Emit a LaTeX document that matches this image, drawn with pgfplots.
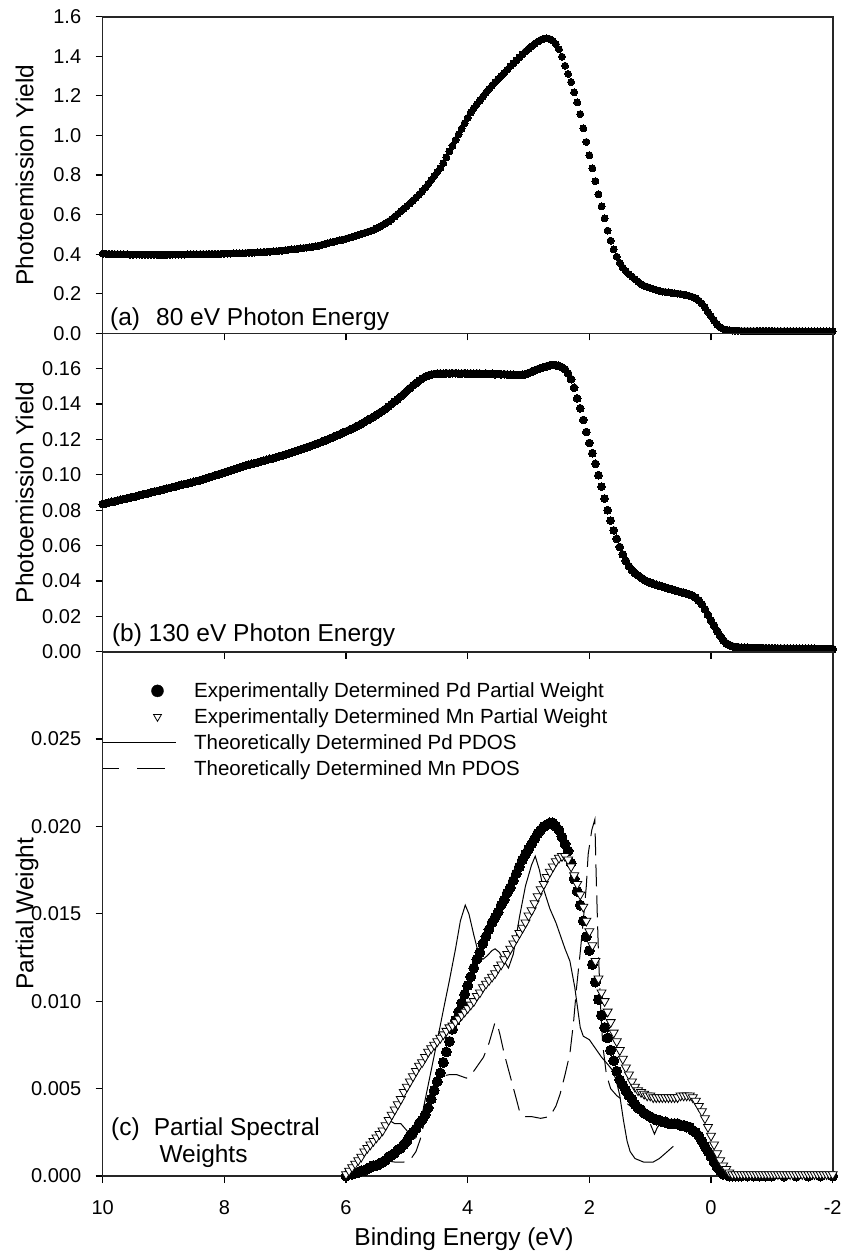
\documentclass[border=0pt]{standalone}
\usepackage{fontspec}
\setmainfont{Liberation Sans}
\usepackage{pgfplots}
\pgfplotsset{compat=1.18}
\pgfplotsset{
  myax/.style={
    scale only axis, anchor=south west, width=730pt,
    xmin=-2, xmax=10, x dir=reverse,
    xtick={10,8,6,4,2,0,-2},
    tick align=outside, major tick length=7pt,
    xtick pos=left, ytick pos=left,
    tick style={line width=1.2pt, black},
    axis line style={line width=1.6pt, black!85},
    clip=false, scaled y ticks=false, scaled x ticks=false,
    /pgf/number format/assume math mode=true,
    tick label style={font=\fontsize{20}{24}\selectfont},
    yticklabel style={xshift=-11pt},
    xticklabel style={yshift=-14pt},
    every axis y label/.style={at={(axis description cs:-0.0951,0.5)}, rotate=90, anchor=base, font=\fontsize{24.5}{29}\selectfont},
    every axis x label/.style={at={(axis description cs:0.495,-0.1316)}, anchor=base, font=\fontsize{24.5}{29}\selectfont},
  },
  dots/.style={only marks, mark=*, mark options={fill=black, draw=black, line width=0pt}},
}
\begin{document}
\begin{tikzpicture}
\path[use as bounding box] (0pt,0pt) rectangle (842pt,-1255pt);
% ---------------- panel (a)
\begin{axis}[myax, at={(102.7pt,-333.3pt)}, height=316.6pt,
  ymin=0, ymax=1.6, xticklabels={},
  ytick={0,0.2,0.4,0.6,0.8,1.0,1.2,1.4,1.6},
  yticklabels={0.0,0.2,0.4,0.6,0.8,1.0,1.2,1.4,1.6},
  ylabel={Photoemission Yield}]
\addplot[dots, mark size=3.5pt] coordinates {
(10.00,0.402)(9.95,0.402)(9.90,0.401)(9.85,0.401)(9.80,0.400)(9.75,0.400)(9.70,0.399)(9.65,0.399)(9.60,0.399)(9.55,0.398)
(9.50,0.398)(9.45,0.398)(9.40,0.398)(9.35,0.397)(9.30,0.397)(9.25,0.397)(9.20,0.397)(9.15,0.397)(9.10,0.397)(9.05,0.397)
(9.00,0.397)(8.95,0.397)(8.90,0.397)(8.85,0.398)(8.80,0.398)(8.75,0.398)(8.70,0.398)(8.65,0.398)(8.60,0.399)(8.55,0.399)
(8.50,0.399)(8.45,0.399)(8.40,0.400)(8.35,0.400)(8.30,0.400)(8.25,0.401)(8.20,0.401)(8.15,0.401)(8.10,0.401)(8.05,0.402)
(8.00,0.402)(7.95,0.403)(7.90,0.403)(7.85,0.404)(7.80,0.404)(7.75,0.405)(7.70,0.405)(7.65,0.406)(7.60,0.407)(7.55,0.407)
(7.50,0.408)(7.45,0.409)(7.40,0.410)(7.35,0.411)(7.30,0.412)(7.25,0.413)(7.20,0.414)(7.15,0.415)(7.10,0.417)(7.05,0.418)
(7.00,0.420)(6.95,0.422)(6.90,0.424)(6.85,0.425)(6.80,0.427)(6.75,0.429)(6.70,0.431)(6.65,0.433)(6.60,0.435)(6.55,0.437)
(6.50,0.440)(6.45,0.443)(6.40,0.447)(6.35,0.451)(6.30,0.455)(6.25,0.459)(6.20,0.463)(6.15,0.467)(6.10,0.471)(6.05,0.474)
(6.00,0.478)(5.95,0.483)(5.90,0.487)(5.85,0.492)(5.80,0.497)(5.75,0.502)(5.70,0.507)(5.65,0.512)(5.60,0.517)(5.55,0.522)
(5.50,0.530)(5.45,0.538)(5.40,0.547)(5.35,0.556)(5.30,0.565)(5.25,0.577)(5.20,0.590)(5.15,0.603)(5.10,0.617)(5.05,0.630)
(5.00,0.643)(4.95,0.656)(4.90,0.671)(4.85,0.686)(4.80,0.701)(4.75,0.717)(4.70,0.735)(4.65,0.754)(4.60,0.774)(4.55,0.794)
(4.50,0.815)(4.45,0.835)(4.40,0.860)(4.35,0.890)(4.30,0.919)(4.25,0.948)(4.20,0.977)(4.15,1.005)(4.10,1.034)(4.05,1.062)
(4.00,1.089)(3.95,1.116)(3.90,1.138)(3.85,1.158)(3.80,1.177)(3.75,1.196)(3.70,1.216)(3.65,1.235)(3.60,1.252)(3.55,1.269)
(3.50,1.285)(3.45,1.300)(3.40,1.316)(3.35,1.332)(3.30,1.350)(3.25,1.365)(3.20,1.380)(3.15,1.395)(3.10,1.410)(3.05,1.424)
(3.00,1.438)(2.95,1.451)(2.90,1.463)(2.85,1.474)(2.80,1.483)(2.75,1.489)(2.70,1.490)(2.65,1.487)(2.60,1.478)(2.55,1.462)
(2.50,1.436)(2.45,1.398)(2.40,1.352)(2.35,1.311)(2.30,1.270)(2.25,1.218)(2.20,1.167)(2.15,1.108)(2.10,1.036)(2.05,0.967)
(2.00,0.900)(1.95,0.834)(1.90,0.769)(1.85,0.703)(1.80,0.641)(1.75,0.581)(1.70,0.519)(1.65,0.468)(1.60,0.424)(1.55,0.387)
(1.50,0.356)(1.45,0.332)(1.40,0.314)(1.35,0.299)(1.30,0.287)(1.25,0.274)(1.20,0.261)(1.15,0.248)(1.10,0.240)(1.05,0.235)
(1.00,0.229)(0.95,0.224)(0.90,0.219)(0.85,0.215)(0.80,0.211)(0.75,0.209)(0.70,0.207)(0.65,0.205)(0.60,0.203)(0.55,0.201)
(0.50,0.199)(0.45,0.196)(0.40,0.192)(0.35,0.188)(0.30,0.183)(0.25,0.177)(0.20,0.165)(0.15,0.150)(0.10,0.131)(0.05,0.108)
(0.00,0.086)(-0.05,0.065)(-0.10,0.045)(-0.15,0.030)(-0.20,0.022)(-0.25,0.018)(-0.30,0.016)(-0.35,0.014)(-0.40,0.013)(-0.45,0.013)
(-0.50,0.012)(-0.55,0.012)(-0.60,0.012)(-0.65,0.012)(-0.70,0.012)(-0.75,0.012)(-0.80,0.012)(-0.85,0.012)(-0.90,0.012)(-0.95,0.012)
(-1.00,0.012)(-1.05,0.011)(-1.10,0.011)(-1.15,0.011)(-1.20,0.011)(-1.25,0.011)(-1.30,0.011)(-1.35,0.011)(-1.40,0.011)(-1.45,0.011)
(-1.50,0.011)(-1.55,0.010)(-1.60,0.010)(-1.65,0.010)(-1.70,0.010)(-1.75,0.010)(-1.80,0.010)(-1.85,0.010)(-1.90,0.010)(-1.95,0.010)
(-2.00,0.010)};
\end{axis}
% ---------------- panel (b)
\begin{axis}[myax, at={(102.7pt,-651.7pt)}, height=318.4pt,
  ymin=0, ymax=0.18, xticklabels={},
  ytick={0,0.02,0.04,0.06,0.08,0.10,0.12,0.14,0.16},
  yticklabels={0.00,0.02,0.04,0.06,0.08,0.10,0.12,0.14,0.16},
  ylabel={Photoemission Yield}]
\addplot[dots, mark size=3.9pt] coordinates {
(10.00,0.0835)(9.95,0.0839)(9.90,0.0843)(9.85,0.0847)(9.80,0.0851)(9.75,0.0855)(9.70,0.0859)(9.65,0.0863)(9.60,0.0867)(9.55,0.0871)
(9.50,0.0875)(9.45,0.0879)(9.40,0.0884)(9.35,0.0888)(9.30,0.0892)(9.25,0.0896)(9.20,0.0901)(9.15,0.0905)(9.10,0.0909)(9.05,0.0913)
(9.00,0.0918)(8.95,0.0922)(8.90,0.0926)(8.85,0.0931)(8.80,0.0935)(8.75,0.0939)(8.70,0.0944)(8.65,0.0948)(8.60,0.0952)(8.55,0.0956)
(8.50,0.0960)(8.45,0.0965)(8.40,0.0970)(8.35,0.0975)(8.30,0.0980)(8.25,0.0986)(8.20,0.0991)(8.15,0.0997)(8.10,0.1002)(8.05,0.1008)
(8.00,0.1013)(7.95,0.1019)(7.90,0.1024)(7.85,0.1030)(7.80,0.1035)(7.75,0.1041)(7.70,0.1047)(7.65,0.1052)(7.60,0.1057)(7.55,0.1062)
(7.50,0.1066)(7.45,0.1071)(7.40,0.1076)(7.35,0.1080)(7.30,0.1085)(7.25,0.1090)(7.20,0.1094)(7.15,0.1099)(7.10,0.1104)(7.05,0.1109)
(7.00,0.1114)(6.95,0.1119)(6.90,0.1125)(6.85,0.1131)(6.80,0.1137)(6.75,0.1143)(6.70,0.1149)(6.65,0.1155)(6.60,0.1161)(6.55,0.1167)
(6.50,0.1173)(6.45,0.1180)(6.40,0.1186)(6.35,0.1193)(6.30,0.1200)(6.25,0.1208)(6.20,0.1215)(6.15,0.1223)(6.10,0.1230)(6.05,0.1238)
(6.00,0.1245)(5.95,0.1253)(5.90,0.1261)(5.85,0.1270)(5.80,0.1279)(5.75,0.1288)(5.70,0.1298)(5.65,0.1308)(5.60,0.1318)(5.55,0.1328)
(5.50,0.1339)(5.45,0.1350)(5.40,0.1361)(5.35,0.1373)(5.30,0.1386)(5.25,0.1400)(5.20,0.1414)(5.15,0.1428)(5.10,0.1443)(5.05,0.1458)
(5.00,0.1474)(4.95,0.1490)(4.90,0.1505)(4.85,0.1519)(4.80,0.1532)(4.75,0.1544)(4.70,0.1554)(4.65,0.1561)(4.60,0.1566)(4.55,0.1570)
(4.50,0.1572)(4.45,0.1573)(4.40,0.1572)(4.35,0.1574)(4.30,0.1573)(4.25,0.1574)(4.20,0.1574)(4.15,0.1572)(4.10,0.1573)(4.05,0.1574)
(4.00,0.1572)(3.95,0.1573)(3.90,0.1571)(3.85,0.1573)(3.80,0.1572)(3.75,0.1570)(3.70,0.1572)(3.65,0.1570)(3.60,0.1571)(3.55,0.1569)
(3.50,0.1570)(3.45,0.1568)(3.40,0.1569)(3.35,0.1567)(3.30,0.1566)(3.25,0.1565)(3.20,0.1564)(3.15,0.1564)(3.10,0.1565)(3.05,0.1569)
(3.00,0.1575)(2.95,0.1582)(2.90,0.1590)(2.85,0.1597)(2.80,0.1603)(2.75,0.1609)(2.70,0.1614)(2.65,0.1619)(2.60,0.1621)(2.55,0.1620)
(2.50,0.1616)(2.45,0.1608)(2.40,0.1596)(2.35,0.1573)(2.30,0.1541)(2.25,0.1492)(2.20,0.1432)(2.15,0.1376)(2.10,0.1310)(2.05,0.1242)
(2.00,0.1180)(1.95,0.1122)(1.90,0.1062)(1.85,0.0998)(1.80,0.0933)(1.75,0.0866)(1.70,0.0800)(1.65,0.0741)(1.60,0.0686)(1.55,0.0638)
(1.50,0.0592)(1.45,0.0550)(1.40,0.0513)(1.35,0.0484)(1.30,0.0462)(1.25,0.0445)(1.20,0.0431)(1.15,0.0418)(1.10,0.0406)(1.05,0.0397)
(1.00,0.0390)(0.95,0.0384)(0.90,0.0378)(0.85,0.0373)(0.80,0.0368)(0.75,0.0363)(0.70,0.0358)(0.65,0.0353)(0.60,0.0348)(0.55,0.0343)
(0.50,0.0338)(0.45,0.0333)(0.40,0.0328)(0.35,0.0323)(0.30,0.0316)(0.25,0.0305)(0.20,0.0289)(0.15,0.0268)(0.10,0.0240)(0.05,0.0208)
(0.00,0.0176)(-0.05,0.0147)(-0.10,0.0117)(-0.15,0.0089)(-0.20,0.0065)(-0.25,0.0048)(-0.30,0.0038)(-0.35,0.0031)(-0.40,0.0027)(-0.45,0.0025)
(-0.50,0.0023)(-0.55,0.0022)(-0.60,0.0022)(-0.65,0.0021)(-0.70,0.0021)(-0.75,0.0021)(-0.80,0.0020)(-0.85,0.0020)(-0.90,0.0020)(-0.95,0.0019)
(-1.00,0.0019)(-1.05,0.0019)(-1.10,0.0018)(-1.15,0.0018)(-1.20,0.0018)(-1.25,0.0018)(-1.30,0.0017)(-1.35,0.0017)(-1.40,0.0017)(-1.45,0.0017)
(-1.50,0.0016)(-1.55,0.0016)(-1.60,0.0016)(-1.65,0.0016)(-1.70,0.0016)(-1.75,0.0015)(-1.80,0.0015)(-1.85,0.0015)(-1.90,0.0015)(-1.95,0.0015)
(-2.00,0.0015)};
\end{axis}
% ---------------- panel (c)
\begin{axis}[myax, at={(102.7pt,-1176pt)}, height=524.3pt,
  ymin=0, ymax=0.03,
  xticklabels={10,8,6,4,2,0,-2},
  ytick={0,0.005,0.010,0.015,0.020,0.025},
  yticklabels={0.000,0.005,0.010,0.015,0.020,0.025},
  ylabel={Partial Weight}, xlabel={Binding Energy (eV)},
  legend style={draw=none, fill=none, inner sep=0pt, outer sep=0pt,
    row sep=9.5pt, column sep=0pt, font=\fontsize{20.5}{24}\selectfont,
    nodes={inner sep=0pt}, at={(axis description cs:0,1)}, anchor=north west, yshift=-31pt},
  legend cell align=left]
% theoretical Pd PDOS
\addplot[forget plot, black, line width=1pt] coordinates {
(5.30,0.0032)(5.20,0.0030)(5.10,0.0030)(5.00,0.0026)(4.90,0.0021)(4.85,0.0022)(4.75,0.0035)(4.65,0.0052)(4.55,0.0069)(4.48,0.0081)
(4.40,0.0095)(4.30,0.0112)(4.20,0.0130)(4.12,0.0146)(4.04,0.0155)(3.98,0.0150)(3.90,0.0138)(3.82,0.0127)(3.75,0.0124)(3.68,0.0126)
(3.60,0.0129)(3.55,0.0130)(3.48,0.0128)(3.40,0.0123)(3.33,0.0119)(3.25,0.0127)(3.15,0.0148)(3.05,0.0166)(2.95,0.0178)(2.89,0.0183)
(2.82,0.0175)(2.76,0.0165)(2.65,0.0153)(2.55,0.0145)(2.48,0.0138)(2.40,0.0130)(2.32,0.0123)(2.24,0.0108)(2.15,0.0085)(2.10,0.0080)
(2.00,0.0078)(1.90,0.0073)(1.80,0.0068)(1.70,0.0064)(1.63,0.0061)(1.56,0.0055)(1.50,0.0046)(1.44,0.0032)(1.38,0.0020)(1.33,0.0014)
(1.25,0.0010)(1.11,0.0008)(0.95,0.0008)(0.85,0.0010)(0.75,0.0013)(0.62,0.0017)};
% theoretical Mn PDOS
\addplot[forget plot, black, line width=1pt, dash pattern=on 22pt off 9pt] coordinates {
(5.40,0.0009)(5.20,0.0008)(5.05,0.0008)(4.95,0.0009)(4.85,0.0014)(4.78,0.0021)(4.70,0.0033)(4.62,0.0047)(4.55,0.0053)(4.45,0.0057)
(4.30,0.0058)(4.18,0.0058)(4.02,0.0056)(3.90,0.0060)(3.80,0.0065)(3.74,0.0068)(3.65,0.0076)(3.55,0.0088)(3.50,0.0085)(3.47,0.0081)
(3.40,0.0070)(3.30,0.0057)(3.20,0.0044)(3.14,0.0036)(3.05,0.0034)(2.95,0.0034)(2.80,0.0033)(2.65,0.0034)(2.55,0.0040)(2.48,0.0047)
(2.40,0.0058)(2.32,0.0070)(2.26,0.0088)(2.21,0.0108)(2.15,0.0128)(2.10,0.0146)(2.05,0.0166)(2.02,0.0184)(1.96,0.0198)(1.91,0.0204)
(1.89,0.0175)(1.87,0.0150)(1.85,0.0127)(1.82,0.0100)(1.78,0.0075)(1.72,0.0058)(1.65,0.0050)(1.55,0.0046)(1.40,0.0042)(1.25,0.0038)
(1.10,0.0034)(1.00,0.0030)(0.93,0.0024)(0.88,0.0028)(0.82,0.0030)};
% experimental Pd
\addplot[forget plot, dots, mark size=5pt] coordinates {
(6.00,0.0000)(5.95,0.0001)(5.90,0.0001)(5.85,0.0002)(5.80,0.0002)(5.75,0.0003)(5.70,0.0003)(5.65,0.0004)(5.60,0.0005)(5.55,0.0006)
(5.50,0.0006)(5.45,0.0007)(5.40,0.0008)(5.35,0.0009)(5.30,0.0011)(5.25,0.0012)(5.20,0.0013)(5.15,0.0015)(5.10,0.0016)(5.05,0.0018)
(5.00,0.0020)(4.95,0.0023)(4.90,0.0025)(4.85,0.0027)(4.80,0.0030)(4.75,0.0032)(4.70,0.0035)(4.65,0.0039)(4.60,0.0044)(4.55,0.0049)
(4.50,0.0054)(4.45,0.0059)(4.40,0.0065)(4.35,0.0071)(4.30,0.0077)(4.25,0.0084)(4.20,0.0089)(4.15,0.0094)(4.10,0.0099)(4.05,0.0104)
(4.00,0.0109)(3.95,0.0114)(3.90,0.0119)(3.85,0.0124)(3.80,0.0128)(3.75,0.0133)(3.70,0.0137)(3.65,0.0141)(3.60,0.0145)(3.55,0.0148)
(3.50,0.0151)(3.45,0.0155)(3.40,0.0158)(3.35,0.0162)(3.30,0.0165)(3.25,0.0169)(3.20,0.0173)(3.15,0.0177)(3.10,0.0181)(3.05,0.0184)
(3.00,0.0187)(2.95,0.0190)(2.90,0.0193)(2.85,0.0196)(2.80,0.0198)(2.75,0.0200)(2.70,0.0201)(2.65,0.0202)(2.60,0.0202)(2.55,0.0200)
(2.50,0.0198)(2.45,0.0194)(2.40,0.0190)(2.35,0.0186)(2.30,0.0179)(2.25,0.0170)(2.20,0.0163)(2.15,0.0155)(2.10,0.0146)(2.05,0.0137)
(2.00,0.0129)(1.95,0.0121)(1.90,0.0111)(1.85,0.0101)(1.80,0.0092)(1.75,0.0085)(1.70,0.0079)(1.65,0.0072)(1.60,0.0066)(1.55,0.0060)
(1.50,0.0055)(1.45,0.0052)(1.40,0.0049)(1.35,0.0046)(1.30,0.0044)(1.25,0.0041)(1.20,0.0039)(1.15,0.0038)(1.10,0.0036)(1.05,0.0035)
(1.00,0.0034)(0.95,0.0033)(0.90,0.0032)(0.85,0.0032)(0.80,0.0031)(0.75,0.0031)(0.70,0.0030)(0.65,0.0030)(0.60,0.0030)(0.55,0.0030)
(0.50,0.0029)(0.45,0.0029)(0.40,0.0028)(0.35,0.0028)(0.30,0.0026)(0.25,0.0025)(0.20,0.0023)(0.15,0.0020)(0.10,0.0017)(0.05,0.0014)
(0.00,0.0011)(-0.05,0.0008)(-0.10,0.0005)(-0.15,0.0003)(-0.20,0.0001)(-0.25,0.0001)(-0.30,0.0000)(-0.35,0.0000)(-0.40,0.0000)(-0.45,0.0000)
(-0.50,0.0000)(-0.60,0.0000)(-0.70,0.0000)(-0.80,0.0000)(-0.90,0.0000)(-1.00,0.0000)(-1.20,0.0000)(-1.40,0.0000)(-1.60,0.0000)(-1.80,0.0000)
(-2.00,0.0000)};
% experimental Mn
\addplot[forget plot, only marks, mark=triangle*, mark size=5.2pt,
  mark options={rotate=180, fill=white, draw=black, line width=0.8pt}] coordinates {
(6.00,0.0001)(5.95,0.0003)(5.90,0.0005)(5.85,0.0007)(5.80,0.0009)(5.75,0.0011)(5.70,0.0014)(5.65,0.0016)(5.60,0.0018)(5.55,0.0020)
(5.50,0.0022)(5.45,0.0024)(5.40,0.0026)(5.35,0.0029)(5.30,0.0032)(5.25,0.0035)(5.20,0.0038)(5.15,0.0041)(5.10,0.0044)(5.05,0.0048)
(5.00,0.0051)(4.95,0.0054)(4.90,0.0057)(4.85,0.0060)(4.80,0.0063)(4.75,0.0065)(4.70,0.0068)(4.65,0.0071)(4.60,0.0073)(4.55,0.0075)
(4.50,0.0077)(4.45,0.0079)(4.40,0.0081)(4.35,0.0083)(4.30,0.0085)(4.25,0.0086)(4.20,0.0088)(4.15,0.0090)(4.10,0.0092)(4.05,0.0094)
(4.00,0.0096)(3.95,0.0098)(3.90,0.0100)(3.85,0.0103)(3.80,0.0105)(3.75,0.0108)(3.70,0.0110)(3.65,0.0112)(3.60,0.0114)(3.55,0.0116)
(3.50,0.0119)(3.45,0.0121)(3.40,0.0124)(3.35,0.0127)(3.30,0.0130)(3.25,0.0133)(3.20,0.0136)(3.15,0.0139)(3.10,0.0142)(3.05,0.0145)
(3.00,0.0149)(2.95,0.0152)(2.90,0.0156)(2.85,0.0160)(2.80,0.0164)(2.75,0.0167)(2.70,0.0171)(2.65,0.0174)(2.60,0.0177)(2.55,0.0180)
(2.50,0.0182)(2.45,0.0183)(2.40,0.0183)(2.35,0.0181)(2.30,0.0177)(2.25,0.0172)(2.20,0.0167)(2.15,0.0161)(2.10,0.0154)(2.05,0.0146)
(2.00,0.0140)(1.95,0.0132)(1.90,0.0123)(1.85,0.0113)(1.80,0.0105)(1.75,0.0100)(1.70,0.0094)(1.65,0.0088)(1.60,0.0082)(1.55,0.0077)
(1.50,0.0072)(1.45,0.0067)(1.40,0.0062)(1.35,0.0058)(1.30,0.0054)(1.25,0.0051)(1.20,0.0049)(1.15,0.0048)(1.10,0.0047)(1.05,0.0046)
(1.00,0.0046)(0.95,0.0045)(0.90,0.0045)(0.85,0.0045)(0.80,0.0045)(0.75,0.0045)(0.70,0.0045)(0.65,0.0045)(0.60,0.0045)(0.55,0.0045)
(0.50,0.0046)(0.45,0.0046)(0.40,0.0046)(0.35,0.0046)(0.30,0.0045)(0.25,0.0043)(0.20,0.0040)(0.15,0.0037)(0.10,0.0033)(0.05,0.0028)
(0.00,0.0023)(-0.05,0.0018)(-0.10,0.0013)(-0.15,0.0009)(-0.20,0.0006)(-0.25,0.0004)(-0.30,0.0002)(-0.35,0.0001)(-0.40,0.0001)(-0.45,0.0001)
(-0.50,0.0001)(-0.55,0.0001)(-0.60,0.0001)(-0.65,0.0001)(-0.70,0.0001)(-0.75,0.0001)(-0.80,0.0001)(-0.85,0.0001)(-0.90,0.0001)(-0.95,0.0001)
(-1.00,0.0001)(-1.05,0.0001)(-1.10,0.0001)(-1.15,0.0001)(-1.20,0.0001)(-1.25,0.0001)(-1.30,0.0001)(-1.35,0.0001)(-1.40,0.0001)(-1.45,0.0001)
(-1.50,0.0001)(-1.55,0.0001)(-1.60,0.0001)(-1.65,0.0001)(-1.70,0.0001)(-1.75,0.0001)(-1.80,0.0001)(-1.85,0.0001)(-1.90,0.0001)(-1.95,0.0001)
(-2.00,0.0001)};
% legend
\addlegendimage{legend image code/.code={\path[draw=none,fill=none] (0pt,-6pt) rectangle (90.9pt,6pt);
  \draw[black, fill=black, only marks, mark=*, mark size=6pt] plot coordinates {(54.3pt,0pt)};}}
\addlegendentry{Experimentally Determined Pd Partial Weight}
\addlegendimage{legend image code/.code={\path[draw=none,fill=none] (0pt,-6pt) rectangle (90.9pt,6pt);
  \draw[black, fill=white, only marks, mark=triangle*, mark size=4.6pt, line width=0.8pt, mark options={rotate=180}] plot coordinates {(54.3pt,0pt)};}}
\addlegendentry{Experimentally Determined Mn Partial Weight}
\addlegendimage{legend image code/.code={\path[draw=none,fill=none] (0pt,-6pt) rectangle (90.9pt,6pt);
  \draw[black, line width=1pt] (0pt,0pt) -- (73pt,0pt);}}
\addlegendentry{Theoretically Determined Pd PDOS}
\addlegendimage{legend image code/.code={\path[draw=none,fill=none] (0pt,-6pt) rectangle (90.9pt,6pt);
  \draw[black, line width=1pt, dash pattern=on 16pt off 18pt on 28pt off 30pt] (0pt,0pt) -- (62pt,0pt);}}
\addlegendentry{Theoretically Determined Mn PDOS}
\end{axis}
% panel labels
\node[anchor=base west, inner sep=0pt, font=\fontsize{24.5}{29}\selectfont] at (110pt,-325pt) {(a)\hspace{16pt}80 eV Photon Energy};
\node[anchor=base west, inner sep=0pt, font=\fontsize{24.5}{29}\selectfont] at (111.8pt,-641pt) {(b) 130 eV Photon Energy};
\node[anchor=base west, inner sep=0pt, font=\fontsize{24.5}{29}\selectfont] at (111pt,-1135pt) {(c)\hspace{14pt}Partial Spectral};
\node[anchor=base west, inner sep=0pt, font=\fontsize{24.5}{29}\selectfont] at (159.3pt,-1162.7pt) {Weights};
\end{tikzpicture}
\end{document}
